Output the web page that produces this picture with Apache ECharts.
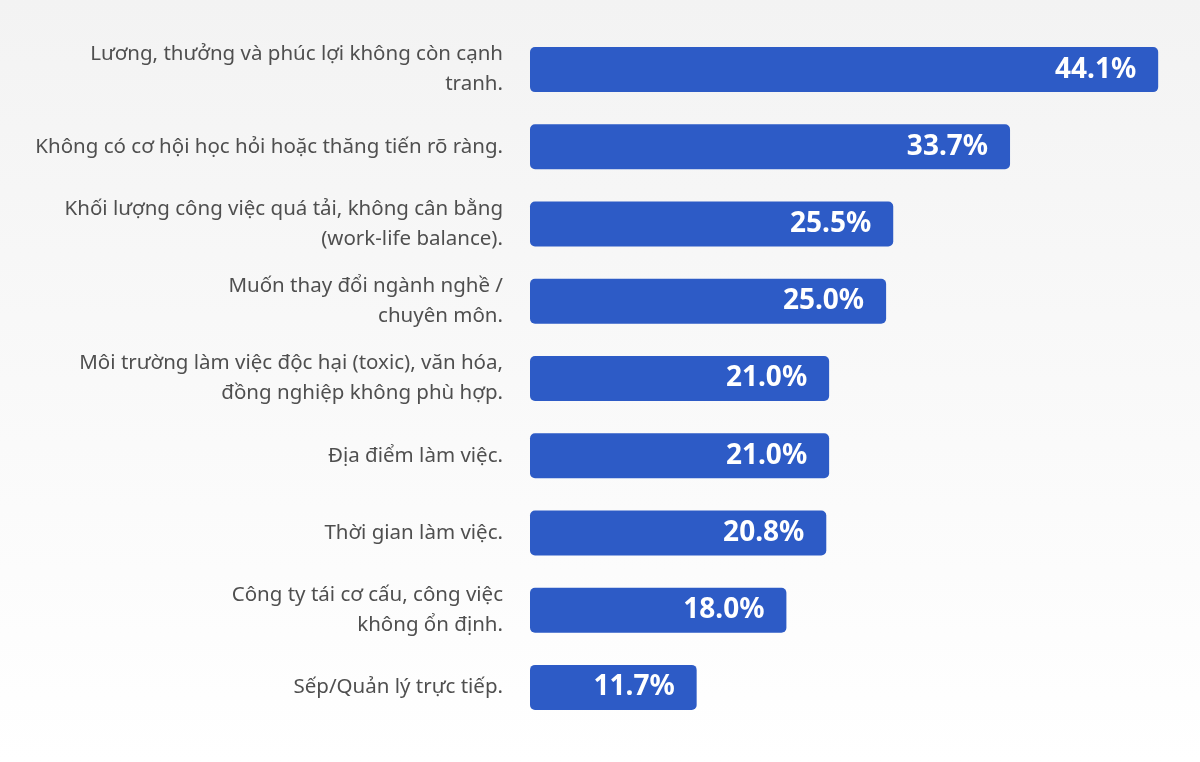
<!DOCTYPE html>
<html>
<head>
<meta charset="utf-8">
<script src="https://cdn.jsdelivr.net/npm/echarts@6/dist/echarts.min.js"></script>
<style>
html,body{margin:0;padding:0;width:1200px;height:762px;overflow:hidden;}
#c{width:1200px;height:762px;}
</style>
</head>
<body>
<div id="c"></div>
<script>
const categories = [
  "Lương, thưởng và phúc lợi không còn cạnh\ntranh.",
  "Không có cơ hội học hỏi hoặc thăng tiến rõ ràng.",
  "Khối lượng công việc quá tải, không cân bằng\n(work-life balance).",
  "Muốn thay đổi ngành nghề /\nchuyên môn.",
  "Môi trường làm việc độc hại (toxic), văn hóa,\nđồng nghiệp không phù hợp.",
  "Địa điểm làm việc.",
  "Thời gian làm việc.",
  "Công ty tái cơ cấu, công việc\nkhông ổn định.",
  "Sếp/Quản lý trực tiếp."
];
const values = [44.1, 33.7, 25.5, 25.0, 21.0, 21.0, 20.8, 18.0, 11.7];

const chart = echarts.init(document.getElementById('c'));
chart.setOption({
  backgroundColor: {
    type: 'linear', x: 0, y: 0, x2: 0, y2: 1,
    colorStops: [{offset: 0, color: '#f3f3f3'}, {offset: 1, color: '#ffffff'}]
  },
  animation: false,
  grid: {left: 530, right: 29, top: 31, bottom: 36, containLabel: false},
  xAxis: {type: 'value', min: 0, max: 45, show: false},
  yAxis: {
    type: 'category',
    data: categories,
    inverse: true,
    axisLine: {show: false},
    axisTick: {show: false},
    splitLine: {show: false},
    axisLabel: {
      margin: 27,
      color: '#4f4f4f',
      fontFamily: 'Noto Sans',
      fontSize: 20.5,
      lineHeight: 30,
      align: 'right'
    }
  },
  series: [{
    type: 'bar',
    data: values,
    barWidth: 45,
    itemStyle: {color: '#2d5bc6', borderRadius: 5},
    label: {
      show: true,
      position: 'insideRight',
      distance: 22,
      formatter: p => p.value.toFixed(1) + '%',
      color: '#ffffff',
      fontFamily: 'Noto Sans',
      fontWeight: 'bold',
      fontSize: 28
    }
  }]
});
</script>
</body>
</html>
